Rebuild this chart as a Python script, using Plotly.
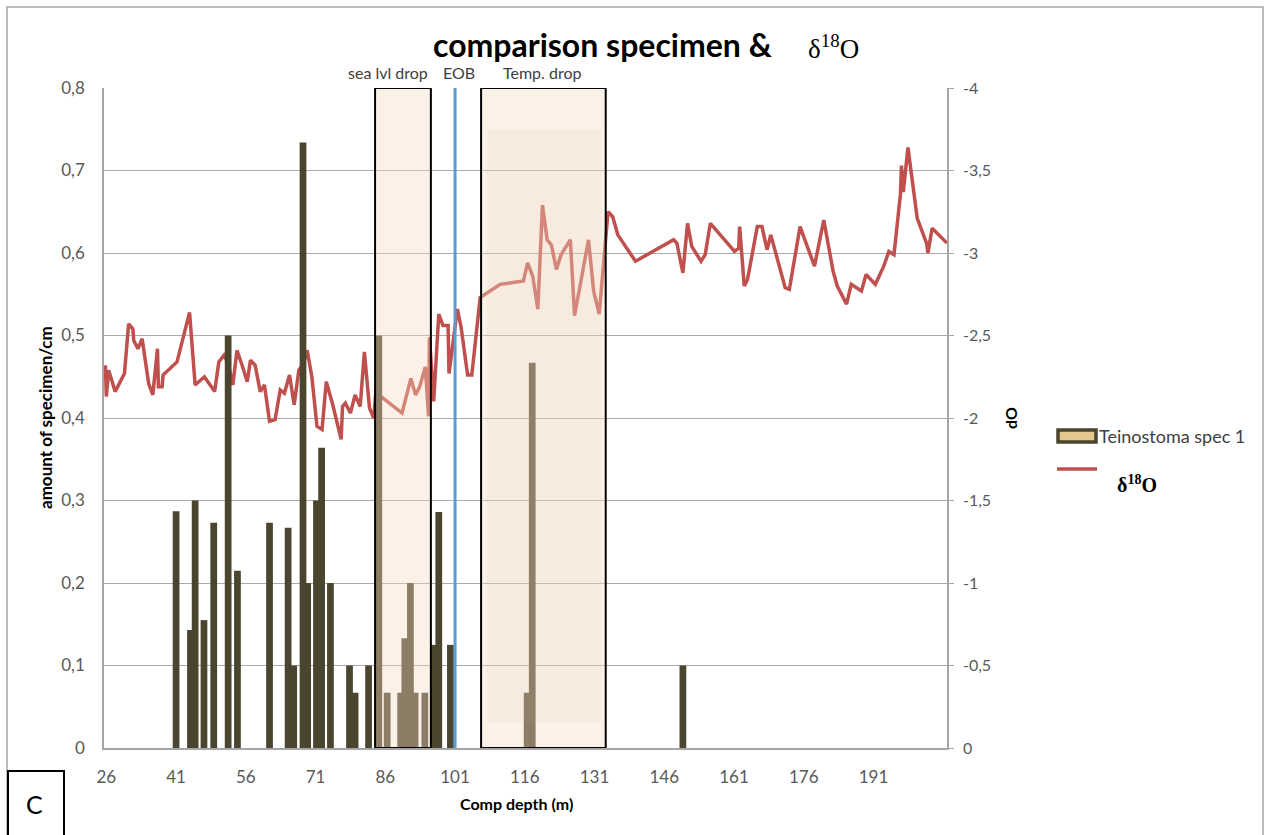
import plotly.graph_objects as go

# ---------------- data ----------------
bar_depth = [41.0, 44.1, 45.1, 47.0, 49.1, 52.2, 54.2, 61.1, 65.1, 66.3,
             68.3, 69.3, 71.2, 72.3, 74.2, 78.3, 79.5, 82.4, 84.6, 86.4,
             89.3, 90.2, 91.4, 92.4, 94.5, 96.5, 97.5, 100.0, 116.5, 117.6,
             150.0]
bar_amount = [0.287, 0.143, 0.300, 0.155, 0.273, 0.500, 0.215, 0.273, 0.267, 0.100,
              0.734, 0.200, 0.300, 0.364, 0.200, 0.100, 0.067, 0.100, 0.500, 0.067,
              0.067, 0.133, 0.200, 0.067, 0.067, 0.125, 0.286, 0.125, 0.067, 0.467,
              0.100]

d18o_depth = [25.8, 26.0, 26.5, 27.9, 29.9, 30.8, 31.7, 31.9, 32.8, 33.7,
              35.1, 36.0, 37.0, 37.2, 38.0, 38.2, 41.2, 43.9, 45.1, 47.1,
              49.3, 50.2, 51.3, 52.2, 53.2, 54.1, 55.2, 56.3, 57.0, 58.0,
              59.1, 60.0, 61.1, 62.3, 63.4, 64.3, 65.4, 66.4, 67.4, 68.4,
              69.2, 70.2, 71.3, 72.4, 73.3, 74.7, 76.5, 76.8, 77.4, 78.5,
              79.5, 80.6, 81.5, 82.6, 83.5, 84.4, 84.6, 89.6, 91.5, 92.5,
              93.4, 94.6, 95.3, 95.5, 96.4, 97.5, 98.4, 99.5, 99.7, 101.5,
              102.3, 103.7, 104.6, 106.4, 110.7, 115.7, 116.6, 117.7, 118.8, 119.8,
              120.8, 121.7, 122.8, 123.8, 125.8, 126.7, 129.7, 130.8, 132.0, 133.9,
              134.9, 136.0, 139.8, 148.0, 148.7, 150.0, 151.0, 151.9, 153.9, 154.8,
              155.9, 161.1, 162.0, 162.2, 163.2, 163.9, 166.0, 167.0, 168.1, 168.9,
              172.0, 172.9, 175.2, 178.3, 180.3, 182.3, 183.2, 185.2, 186.2, 188.4,
              189.4, 191.4, 193.2, 194.3, 195.4, 196.8, 197.0, 197.4, 198.4, 200.4,
              202.4, 202.7, 203.6, 206.0, 206.8]
d18o_value = [-2.32, -2.13, -2.29, -2.16, -2.27, -2.57, -2.54, -2.47, -2.42, -2.48,
              -2.21, -2.14, -2.42, -2.19, -2.19, -2.26, -2.34, -2.64, -2.20, -2.25,
              -2.16, -2.34, -2.38, -2.33, -2.20, -2.41, -2.32, -2.22, -2.35, -2.32,
              -2.16, -2.20, -1.98, -1.99, -2.17, -2.15, -2.26, -2.08, -2.29, -2.33,
              -2.41, -2.25, -1.95, -1.93, -2.22, -2.08, -1.87, -2.07, -2.09, -2.03,
              -2.14, -2.07, -2.40, -2.06, -2.00, -2.30, -2.14, -2.03, -2.24, -2.14,
              -2.19, -2.31, -2.01, -2.49, -2.10, -2.63, -2.56, -2.56, -2.27, -2.66,
              -2.55, -2.26, -2.26, -2.73, -2.81, -2.83, -2.94, -2.86, -2.66, -3.29,
              -3.08, -3.05, -2.90, -2.99, -3.08, -2.62, -3.08, -2.77, -2.63, -3.25,
              -3.22, -3.11, -2.95, -3.08, -3.06, -2.88, -3.18, -3.04, -2.95, -2.99,
              -3.18, -3.01, -3.03, -3.16, -2.80, -2.84, -3.16, -3.16, -3.02, -3.11,
              -2.79, -2.78, -3.16, -2.92, -3.20, -2.89, -2.80, -2.69, -2.81, -2.77,
              -2.87, -2.81, -2.92, -3.01, -2.99, -3.36, -3.53, -3.37, -3.64, -3.21,
              -3.06, -3.00, -3.15, -3.08, -3.06]

x_ticks = [26, 41, 56, 71, 86, 101, 116, 131, 146, 161, 176, 191]
left_ticks = [0, 0.1, 0.2, 0.3, 0.4, 0.5, 0.6, 0.7, 0.8]
left_labels = ["0", "0,1", "0,2", "0,3", "0,4", "0,5", "0,6", "0,7", "0,8"]
right_ticks = [0, -0.5, -1, -1.5, -2, -2.5, -3, -3.5, -4]
right_labels = ["0", "-0,5", "-1", "-1,5", "-2", "-2,5", "-3", "-3,5", "-4"]

sea_lvl_drop = (83.8, 95.8)
temp_drop = (106.6, 133.4)
eob_depth = 101.0

# ---------------- layout geometry ----------------
W, H = 1266, 835
L, R, T, B = 104, 319, 88, 87
PW, PH = W - L - R, H - T - B


def px(xp):
    return (xp - L) / PW


def py(yp):
    return (H - B - yp) / PH


BAR_COLOR = "#4A452F"
LINE_COLOR = "#C0504D"
FONT = "Lato, 'Open Sans', sans-serif"
SERIF = "'Liberation Serif', 'DejaVu Serif', serif"

fig = go.Figure()

fig.add_trace(go.Scatter(
    x=d18o_depth, y=d18o_value, mode="lines", yaxis="y",
    line=dict(color=LINE_COLOR, width=3.5), showlegend=False, name="δ18O"))

fig.add_trace(go.Bar(
    x=bar_depth, y=bar_amount, yaxis="y2", width=1.45,
    marker=dict(color=BAR_COLOR, line=dict(width=0)),
    showlegend=False, name="Teinostoma spec 1"))

shapes = []
# highlighted intervals (semi-transparent, above traces)
for (a, b) in (sea_lvl_drop, temp_drop):
    shapes.append(dict(type="rect", xref="x", yref="y2", x0=a, x1=b, y0=0, y1=0.8,
                       fillcolor="rgba(248,218,192,0.38)",
                       line=dict(color="black", width=2), layer="above"))
# soft inner shade in temp drop box
shapes.append(dict(type="rect", xref="x", yref="y2", x0=107.9, x1=132.4, y0=0.031, y1=0.749,
                   fillcolor="rgba(190,165,145,0.08)", line=dict(width=0), layer="above"))
# EOB line
shapes.append(dict(type="line", xref="x", yref="y2", x0=eob_depth, x1=eob_depth, y0=0, y1=0.8,
                   line=dict(color="#5B9BD5", width=3), layer="above"))
# outer frame
shapes.append(dict(type="rect", xref="paper", yref="paper", x0=px(7), x1=px(1263), y0=py(845), y1=py(7),
                   line=dict(color="#A6A6A6", width=1.5), fillcolor="rgba(0,0,0,0)", layer="below"))
# "C" panel box
shapes.append(dict(type="rect", xref="paper", yref="paper", x0=px(8), x1=px(64), y0=py(845), y1=py(771),
                   line=dict(color="black", width=2), fillcolor="white", layer="above"))
# legend symbols
shapes.append(dict(type="rect", xref="paper", yref="paper", x0=px(1058), x1=px(1096), y0=py(442), y1=py(430),
                   line=dict(color=BAR_COLOR, width=3.5), fillcolor="#E6C88E", layer="above"))
shapes.append(dict(type="line", xref="paper", yref="paper", x0=px(1057), x1=px(1097), y0=py(469), y1=py(469),
                   line=dict(color=LINE_COLOR, width=3.5), layer="above"))

ann = []


def add_text(text, xp, yp, size, family=FONT, color="#404040", xanchor="center", angle=0):
    ann.append(dict(text=text, x=px(xp), y=py(yp), xref="paper", yref="paper",
                    showarrow=False, xanchor=xanchor, yanchor="middle", textangle=angle,
                    font=dict(size=size, family=family, color=color)))


add_text("<b>comparison specimen &</b>", 603, 45, 32, color="black")
add_text("δ<sup>18</sup>O", 833, 47, 27, family=SERIF, color="black")
add_text("sea lvl drop", 388, 72, 16)
add_text("EOB", 459, 72, 16)
add_text("Temp. drop", 542, 72, 16)
add_text("<b>amount of specimen/cm</b>", 45, 418, 17, color="black", angle=-90)
add_text("<b>dO</b>", 1010, 418, 16, color="black", angle=-90)
add_text("<b>Comp depth (m)</b>", 516, 803, 16, color="black")
add_text("Teinostoma spec 1", 1097, 436, 18, xanchor="left")
add_text("<b>δ<sup>18</sup>O</b>", 1137, 484, 20, family=SERIF, color="black")
add_text("C", 34, 804, 25, color="black")

fig.update_layout(
    width=W, height=H,
    margin=dict(l=L, r=R, t=T, b=B, pad=0),
    paper_bgcolor="white", plot_bgcolor="white",
    barmode="overlay", showlegend=False,
    font=dict(family=FONT, size=15, color="#595959"),
    xaxis=dict(range=[25.5, 206.8], tickvals=x_ticks, ticktext=[str(t) for t in x_ticks],
               showgrid=False, zeroline=False, showline=True, linecolor="#A6A6A6", linewidth=1.5,
               ticks="", tickfont=dict(size=17, family=FONT, color="#595959"),
               ticklabelstandoff=13),
    yaxis=dict(range=[0, -4], side="right", tickvals=right_ticks, ticktext=right_labels,
               showgrid=True, gridcolor="#ABABAB", gridwidth=1.2, zeroline=False,
               showline=True, linecolor="#A6A6A6", linewidth=1.5,
               ticks="outside", ticklen=5, tickcolor="#A6A6A6",
               tickfont=dict(size=16, family=FONT, color="#595959"), ticklabelstandoff=6),
    yaxis2=dict(range=[0, 0.8], side="left", overlaying="y", tickvals=left_ticks, ticktext=left_labels,
                showgrid=False, zeroline=False, showline=True, linecolor="#A6A6A6", linewidth=1.5,
                ticks="", tickfont=dict(size=17, family=FONT, color="#595959"), ticklabelstandoff=14),
    shapes=shapes, annotations=ann,
)

fig.write_html("out.html")
